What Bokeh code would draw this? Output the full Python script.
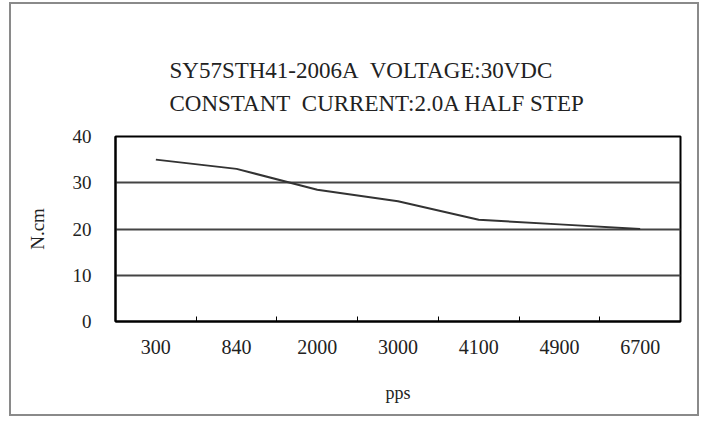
from bokeh.plotting import figure
from bokeh.models import Range1d, FixedTicker, Title
from bokeh.embed import file_html
from bokeh.resources import INLINE

speeds = ["300", "840", "2000", "3000", "4100", "4900", "6700"]
torque = [35, 33, 28.5, 26, 22, 21, 20]
y_ticks = [0, 10, 20, 30, 40]
title_1 = "SY57STH41-2006A\u00a0 VOLTAGE:30VDC"
title_2 = "CONSTANT\u00a0 CURRENT:2.0A HALF STEP"
x_label = "pps"
y_label = "N.cm"

FONT = "Liberation Serif"
TXT = "#222222"

n = len(speeds)
xs = [i + 0.5 for i in range(n)]

p = figure(width=686, height=410, output_backend="svg", toolbar_location=None,
           x_range=Range1d(0, n), y_range=Range1d(0, 40),
           min_border_left=104, min_border_right=17, min_border_top=132, min_border_bottom=93,
           frame_width=565, frame_height=185)
p.styles = {"border": "2px solid #8a8a8a", "margin-left": "9px", "margin-top": "2px"}
p.background_fill_color = "white"
p.border_fill_color = "white"
p.outline_line_color = "black"
p.outline_line_width = 2

p.add_layout(Title(text=title_1 + "\n" + title_2, align="left", offset=54,
                   text_font=FONT, text_font_size="23px", text_line_height=1.3,
                   text_font_style="normal", text_color=TXT, standoff=42), "above")

p.line(xs, torque, line_color="#333333", line_width=2)

xa = p.xaxis[0]
xa.ticker = FixedTicker(ticks=xs, minor_ticks=list(range(1, n)))
xa.major_label_overrides = {x: s for x, s in zip(xs, speeds)}
xa.major_tick_in = 0
xa.major_tick_out = 0
xa.minor_tick_in = 5
xa.minor_tick_out = 0
xa.minor_tick_line_color = "black"
xa.axis_line_color = "black"
xa.axis_line_width = 2
xa.major_label_text_font = FONT
xa.major_label_text_font_size = "20px"
xa.major_label_text_color = TXT
xa.major_label_standoff = 18
xa.axis_label = x_label
xa.axis_label_text_font = FONT
xa.axis_label_text_font_size = "18px"
xa.axis_label_text_font_style = "normal"
xa.axis_label_text_color = TXT
xa.axis_label_standoff = 26

ya = p.yaxis[0]
ya.ticker = FixedTicker(ticks=y_ticks, minor_ticks=[])
ya.major_tick_in = 0
ya.major_tick_out = 0
ya.axis_line_color = "black"
ya.axis_line_width = 2
ya.major_label_text_font = FONT
ya.major_label_text_font_size = "19px"
ya.major_label_text_color = TXT
ya.major_label_standoff = 24
ya.axis_label = y_label
ya.axis_label_text_font = FONT
ya.axis_label_text_font_size = "19px"
ya.axis_label_text_font_style = "normal"
ya.axis_label_text_color = TXT
ya.axis_label_standoff = 22

p.xgrid.grid_line_color = None
p.ygrid.ticker = FixedTicker(ticks=y_ticks)
p.ygrid.grid_line_color = "#444444"
p.ygrid.grid_line_width = 2

open("out.html", "w").write(file_html(p, INLINE))
